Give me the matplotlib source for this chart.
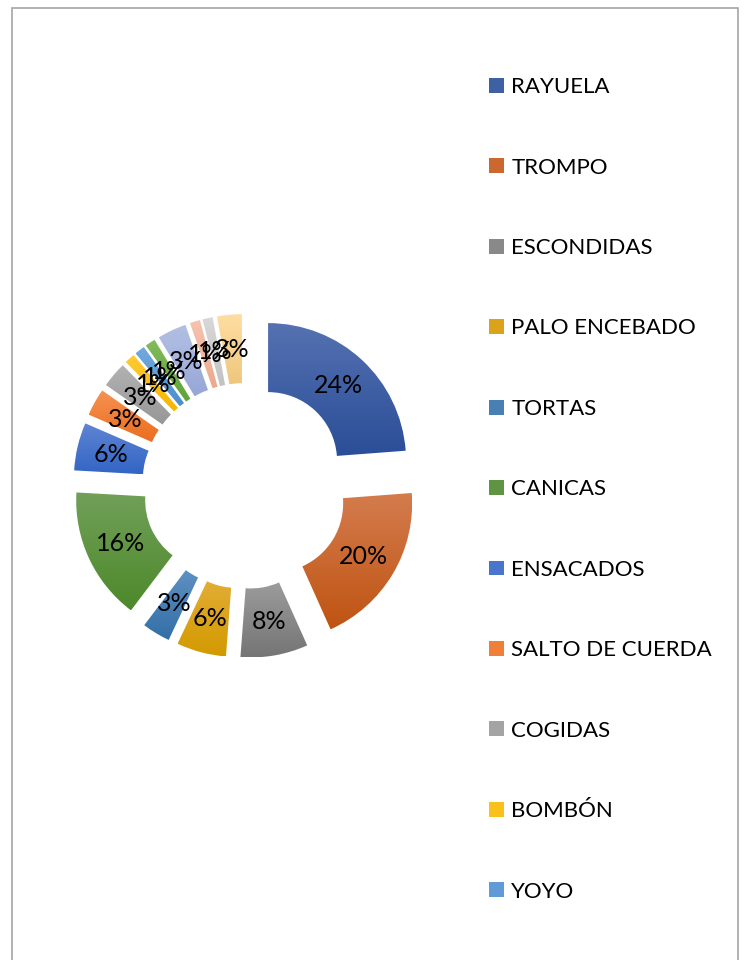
import numpy as np
import matplotlib
matplotlib.use("Agg")
import matplotlib.pyplot as plt
from matplotlib.patches import Rectangle, Patch
from matplotlib.colors import to_rgb

categories = ["RAYUELA", "TROMPO", "ESCONDIDAS", "PALO ENCEBADO", "TORTAS",
              "CANICAS", "ENSACADOS", "SALTO DE CUERDA", "COGIDAS", "BOMBÓN",
              "YOYO", "OTRO 12", "OTRO 13", "OTRO 14", "OTRO 15", "OTRO 16"]
values = [23.8, 19.5, 7.9, 5.8, 3.3, 15.6, 5.6, 3.2, 3.0, 1.2, 1.2, 1.2, 3.4,
          1.2, 1.2, 2.9]
legend_count = 11

top_colors = ["#5571B1", "#D47C4E", "#9C9C9C", "#E2AD35", "#5E90C2", "#71A058",
              "#5E85D2", "#F59352", "#B2B2B2", "#FFCA35", "#72AADE", "#82BB5C",
              "#B3C0E4", "#F6C3AF", "#D8D8D8", "#FFDEA3"]
bot_colors = ["#2A4E98", "#BF5412", "#757575", "#D39A00", "#326FA7", "#4D892B",
              "#3365C5", "#EB6D20", "#979797", "#F4B700", "#4C8ECF", "#60A339",
              "#98A6D7", "#ECA98E", "#C2C2C2", "#EFC67E"]

W, H = 744, 960
fig = plt.figure(figsize=(W / 100, H / 100), dpi=100)

# chart border
fig.add_artist(Rectangle((12 / W, -0.01), (738 - 12) / W, 1.01 - 8 / H,
                         transform=fig.transFigure, fill=False,
                         edgecolor="#A6A6A6", lw=1.2))

cx, cy, R = 245, 486, 138
half = 1.6
size = 2 * half * R
ax = fig.add_axes([(cx - size / 2) / W, (H - cy - size / 2) / H, size / W, size / H])

explode = [0.246] * len(values)
wedges, texts, autotexts = ax.pie(
    values, explode=explode, startangle=90, counterclock=False,
    radius=1.0, wedgeprops=dict(width=0.5, linewidth=0),
    autopct="%1.0f%%", pctdistance=0.75,
    textprops=dict(fontsize=18, family=["Lato", "DejaVu Sans"], color="black"))

for w, ct, cb in zip(wedges, top_colors, bot_colors):
    ext = w.get_path().get_extents(w.get_patch_transform())
    t = np.linspace(0, 1, 64)[:, None]
    grad = (np.array(to_rgb(cb))[None, :] * (1 - t) + np.array(to_rgb(ct))[None, :] * t)
    grad = grad[:, None, :]
    im = ax.imshow(grad, extent=[ext.x0, ext.x1, ext.y0, ext.y1], origin="lower",
                   aspect="auto", zorder=w.get_zorder(), interpolation="bilinear")
    im.set_clip_path(w)
    w.set_facecolor("none")

for t in autotexts:
    t.set_zorder(5)

ax.set_xlim(-half, half)
ax.set_ylim(-half, half)
ax.set_aspect("equal")
ax.axis("off")

handles = []
for i in range(legend_count):
    mid = tuple((np.array(to_rgb(top_colors[i])) + np.array(to_rgb(bot_colors[i]))) / 2)
    handles.append(Patch(facecolor=mid, edgecolor="none"))
fig.legend(handles, categories[:legend_count], loc="upper left",
           bbox_to_anchor=(478 / W, 1 - 66 / H), frameon=False,
           prop=dict(family=["Lato", "DejaVu Sans"], size=16),
           handlelength=0.65, handleheight=0.65, handletextpad=0.35,
           labelspacing=2.72, borderpad=0)

fig.savefig("out.png", dpi=100)
